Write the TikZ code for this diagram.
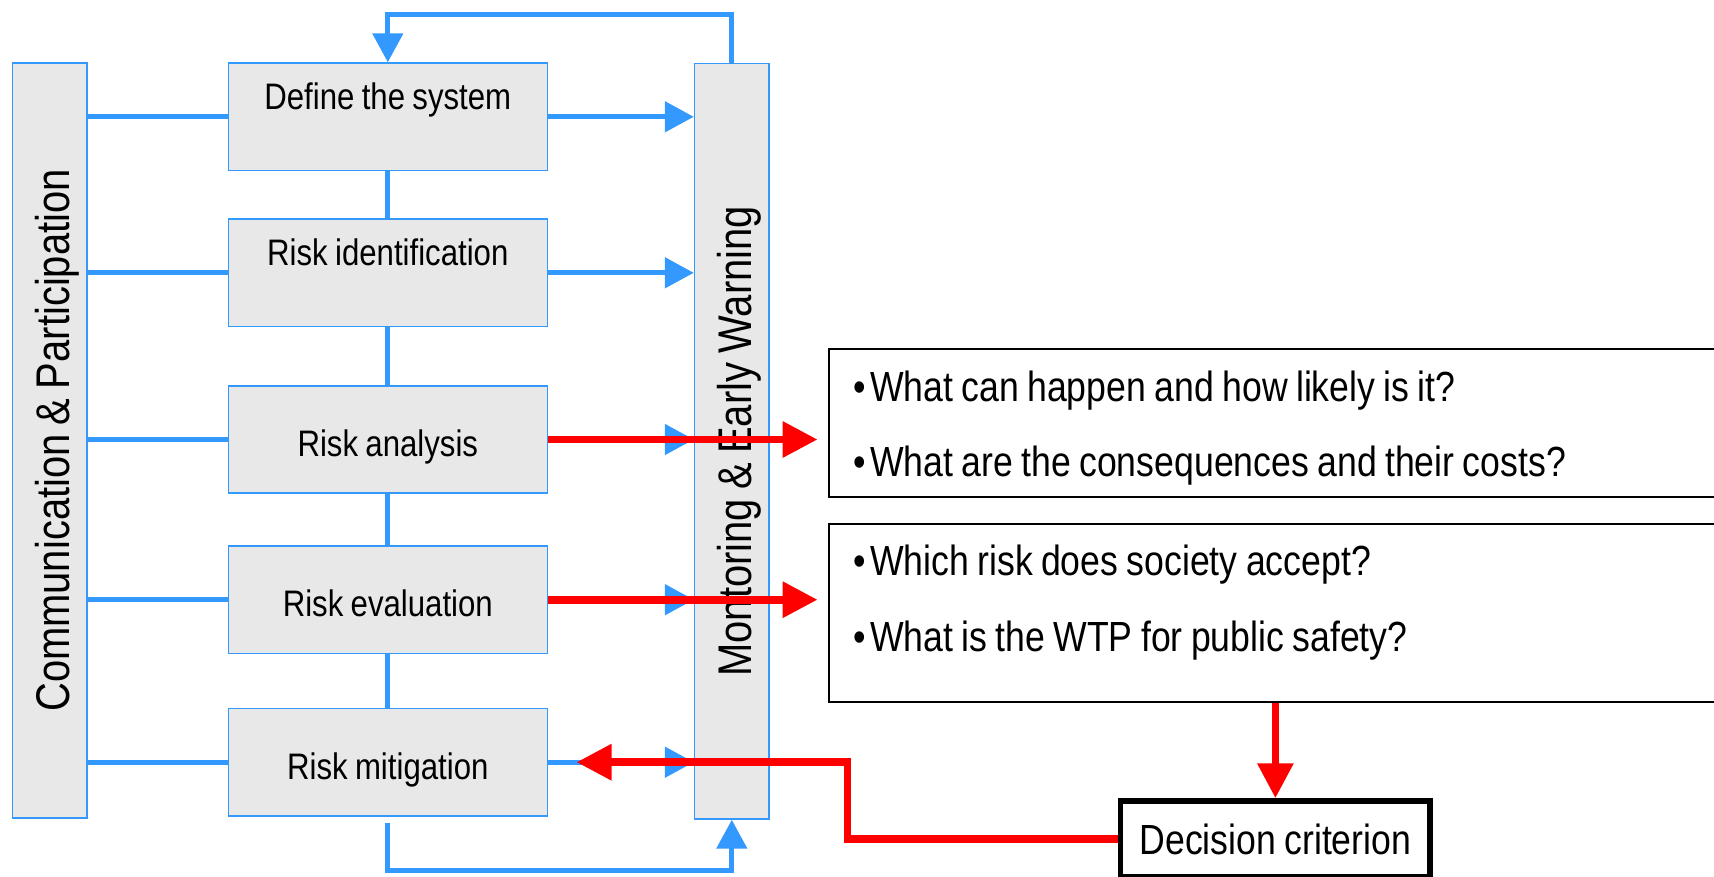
\documentclass[tikz,border=0pt]{standalone}
\usepackage{fontspec}
\setmainfont{Liberation Sans}[FakeStretch=0.845, WordSpace=0.845]
\usetikzlibrary{arrows.meta}
\definecolor{flowblue}{RGB}{51,153,255}
\definecolor{boxgray}{RGB}{232,232,232}

\begin{document}
\begin{tikzpicture}[x=0.02cm,y=-0.02cm]
   \useasboundingbox (0,0) rectangle (1714,876);
   \clip (0,0) rectangle (1714,876);
   \tikzset{BoxStyle/.style={draw=flowblue, line width=0.03cm, fill=boxgray, inner sep=0pt,
      minimum width=6.38cm, minimum height=2.15cm, font=\fontsize{21}{25}\selectfont}}
   \tikzset{TopText/.style={text height=0.53cm, text depth=0.83cm}}
   \tikzset{MidText/.style={text height=0.75cm, text depth=0.06cm}}
   \tikzset{BarStyle/.style={draw=flowblue, line width=0.03cm, fill=boxgray, inner sep=0pt, rotate=90,
      minimum width=15.11cm, minimum height=1.49cm, text height=0.8cm, text depth=0pt,
      font=\fontsize{26.9}{32}\selectfont}}
   \tikzset{QuestionStyle/.style={draw=black, line width=0.04cm, anchor=north west, align=flush left,
      text width=16.95cm, inner xsep=0.5cm, inner ysep=0pt, text height=0.61cm,
      font=\fontsize{24}{43}\selectfont}}
   \tikzset{EdgeStyle/.style={draw=flowblue, line width=0.1cm}}
   \tikzset{BlueArrow/.style={EdgeStyle, -{Triangle[length=0.58cm, width=0.6cm]}}}
   \tikzset{RedArrow/.style={draw=red, line width=0.155cm, -{Triangle[length=0.7cm, width=0.69cm]}}}
   \node[BarStyle] (comm) at (49.7,440.5) {Communication \& Participation};
   \node[BarStyle] (mon) at (731.8,441.3) {Montoring \& Early Warning};
   \node[BoxStyle,TopText] (define) at (387.8,116.8) {Define the system};
   \node[BoxStyle,TopText] (identify) at (387.8,272.8) {Risk identification};
   \node[BoxStyle,MidText] (analyse) at (387.8,439.5) {Risk analysis};
   \node[BoxStyle,MidText] (evaluate) at (387.8,599.7) {Risk evaluation};
   \node[BoxStyle,MidText] (mitigate) at (387.8,762.2) {Risk mitigation};
   \coordinate (looptop) at (560,14.3);
   \coordinate (loopbot) at (560,870.7);
   \foreach \n in {define,identify,analyse,evaluate,mitigate}{
      \draw[EdgeStyle] (\n.west -| comm.south) -- (\n.west);
      \draw[BlueArrow] (\n.east) -- (\n.east -| mon.north);
   }
   \foreach \a/\b in {define/identify,identify/analyse,analyse/evaluate,evaluate/mitigate}
      \draw[EdgeStyle] (\a.south) -- (\b.north);
   \draw[BlueArrow] (mon.east) |- (looptop) -| (define.north);
   \draw[BlueArrow, shorten <=0.12cm] (mitigate.south) |- (loopbot) -| (mon.west);
   \node[QuestionStyle, minimum height=2.96cm, text depth=1.5cm] (q1) at (827.6,348.3)
      {•\hspace{0.08cm}What can happen and how likely is it?\\
       •\hspace{0.08cm}What are the consequences and their costs?};
   \node[QuestionStyle, minimum height=3.56cm, text depth=2.08cm] (q2) at (827.6,522.7)
      {•\hspace{0.08cm}Which risk does society accept?\\
       •\hspace{0.08cm}What is the WTP for public safety?};
   \node[draw=black, line width=0.11cm, minimum width=6.19cm, minimum height=1.52cm, text depth=0pt,
      font=\fontsize{24}{28}\selectfont] (decision) at (1275.4,839) {Decision criterion};
   \draw[RedArrow, shorten >=0.2cm] (analyse.east) -- (analyse.east -| q1.west);
   \draw[RedArrow, shorten >=0.2cm] (evaluate.east) -- (evaluate.east -| q2.west);
   \draw[RedArrow] (q2.south -| decision.north) -- (decision.north);
   \draw[RedArrow, shorten >=0.57cm] (decision.west) -- ++(-270.4,0) |- (mitigate.east);
\end{tikzpicture}
\end{document}
